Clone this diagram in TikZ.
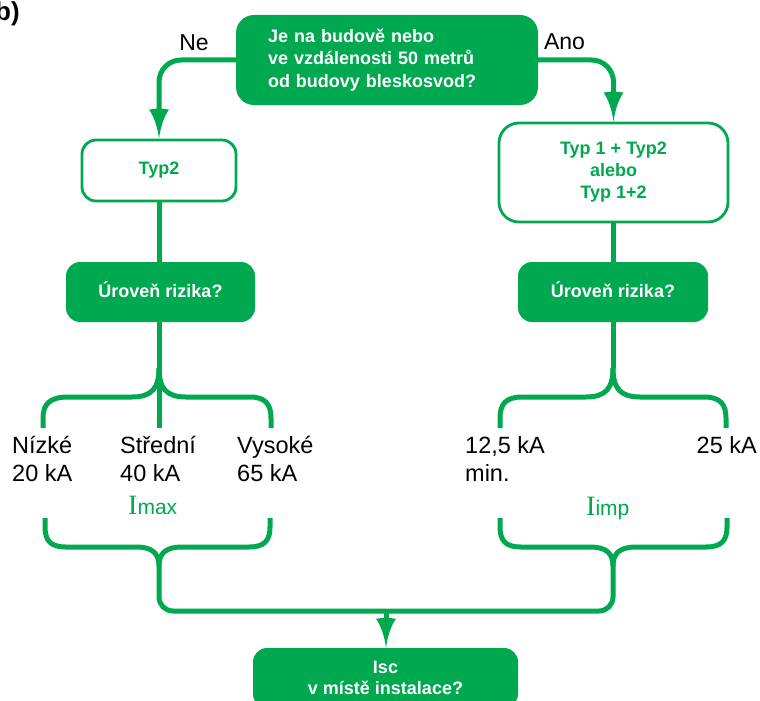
\documentclass[tikz,border=0pt]{standalone}
\usepackage{fontspec}
\setmainfont{Liberation Sans}
\newfontfamily\serifI{Liberation Serif}
\usetikzlibrary{arrows.meta}
\definecolor{sgreen}{RGB}{0,168,80}
\begin{document}
\begin{tikzpicture}[x=1pt,y=-1pt,
  gbox/.style={fill=sgreen, rounded corners=14pt, text=white, font=\bfseries\fontsize{18}{22}\selectfont, align=center, inner sep=0pt},
  wbox/.style={draw=sgreen, line width=2.8pt, fill=white, rounded corners=14pt, text=sgreen, font=\bfseries\fontsize{18}{22}\selectfont, align=center, inner sep=0pt},
  conn/.style={draw=sgreen, line width=5pt},
  blab/.style={font=\fontsize{23.5}{28}\selectfont, anchor=base west, inner sep=0pt},
  glab/.style={anchor=base west, inner sep=0pt, text=sgreen},
  yn/.style={anchor=base, inner sep=0pt, font=\fontsize{23}{23}\selectfont},
  ahead/.pic={\fill[sgreen] (0,0) .. controls (-1.5,-12) and (-5.5,-23) .. (-10,-29) -- (-2.5,-30) -- (2.5,-30) -- (10,-29) .. controls (5.5,-23) and (1.5,-12) .. (0,0) -- cycle;}]
\clip (0,0) rectangle (760,701);
% label
\node[anchor=base west, inner sep=0pt, font=\bfseries\fontsize{26}{26}\selectfont] (lab) at (-5,21) {b)};
% boxes
\node[gbox, rounded corners=18pt, minimum width=302pt, minimum height=90pt, text width=238pt, inner xsep=32pt, align=left, font=\bfseries\fontsize{18}{22.5}\selectfont] (q) at (387,60) {Je na budově nebo\\ve vzdálenosti 50 metrů\\od budovy bleskosvod?};
\node[wbox, minimum width=154pt, minimum height=61pt] (t2) at (159,170.5) {Typ2};
\node[wbox, rounded corners=20pt, minimum width=229pt, minimum height=99pt] (t12) at (613.5,172.5) {Typ 1 + Typ2\\alebo\\Typ 1+2};
\node[gbox, minimum width=189pt, minimum height=60pt, text height=11pt, text depth=0pt] (uL) at (160.5,292) {Úroveň rizika?};
\node[gbox, minimum width=190pt, minimum height=60pt, text height=11pt, text depth=0pt] (uR) at (613,292) {Úroveň rizika?};
\node[gbox, minimum width=265pt, minimum height=60pt, font=\bfseries\fontsize{18}{20.5}\selectfont] (isc) at (385.5,678) {Isc\\v místě instalace?};
% yes / no
\node[yn] (ne) at (194,51) {Ne};
\node[yn] (ano) at (564.5,49) {Ano};
% coordinates
\coordinate (cL) at (159,368);
\coordinate (mL) at (159,428);
\coordinate (cR) at (613,368);
\coordinate (dL) at (159,566);
\coordinate (dR) at (613,566);
\coordinate (j) at (386,611);
% connectors from question
\draw[conn, rounded corners=22pt, shorten >=22pt] (q.west) -| (t2.north);
\pic at (t2.north) {ahead};
\draw[conn, rounded corners=22pt, shorten >=22pt] (q.east) -| (t12.north);
\pic at (t12.north) {ahead};
\draw[conn] (t2.south) -- (t2.south |- uL.north);
\draw[conn] (t12.south -| cR) -- (uR.north -| cR);
\draw[conn] (uL.south -| cL) -- (cL) -- (mL);
\draw[conn] (uR.south -| cR) -- (cR);
% upper left brace
\draw[conn] (cL) .. controls (159,388) and (152,397) .. (132,397) -- (68,397) .. controls (50,397) and (43,404) .. (43,418) -- (43,428);
\draw[conn] (cL) .. controls (159,388) and (166,397) .. (186,397) -- (250,397) .. controls (265,397) and (271,404) .. (271,418) -- (271,428);
% upper right brace
\draw[conn] (cR) .. controls (613,388) and (606,397) .. (586,397) -- (522,397) .. controls (506,397) and (500,404) .. (500,418) -- (500,428);
\draw[conn] (cR) .. controls (613,388) and (620,397) .. (640,397) -- (704,397) .. controls (720,397) and (726,404) .. (726,418) -- (726,428);
% labels
\node[blab] (n1) at (12,453) {Nízké};
\node[blab] (n2) at (12,481) {20 kA};
\node[blab] (s1) at (120,453) {Střední};
\node[blab] (s2) at (120,481) {40 kA};
\node[blab] (v1) at (237,453) {Vysoké};
\node[blab] (v2) at (237,481) {65 kA};
\node[blab] (r1) at (465,453) {12,5 kA};
\node[blab] (r2) at (465,481) {min.};
\node[blab, anchor=base east] (r3) at (757,453) {25 kA};
\node[glab] (imax) at (128,514) {{\serifI\fontsize{28}{28}\selectfont I}{\fontsize{21}{21}\selectfont max}};
\node[glab] (iimp) at (586,515) {{\serifI\fontsize{28}{28}\selectfont I}{\fontsize{21}{21}\selectfont imp}};
% lower left brace
\draw[conn] (45,518) -- (45,527) .. controls (45,541) and (51,547) .. (66,547) -- (136,547) .. controls (152,547) and (159,553) .. (dL);
\draw[conn] (270,518) -- (270,527) .. controls (270,541) and (264,547) .. (249,547) -- (182,547) .. controls (166,547) and (159,553) .. (dL);
% lower right brace
\draw[conn] (500,518) -- (500,527) .. controls (500,541) and (506,547) .. (521,547) -- (590,547) .. controls (606,547) and (613,553) .. (dR);
\draw[conn] (727,518) -- (727,527) .. controls (727,541) and (721,547) .. (706,547) -- (636,547) .. controls (620,547) and (613,553) .. (dR);
% join
\draw[conn, rounded corners=14pt] (dL) |- (j) -| (dR);
\draw[conn, shorten >=22pt] (j) -- (j |- isc.north);
\pic at (j |- isc.north) {ahead};
\end{tikzpicture}
\end{document}
